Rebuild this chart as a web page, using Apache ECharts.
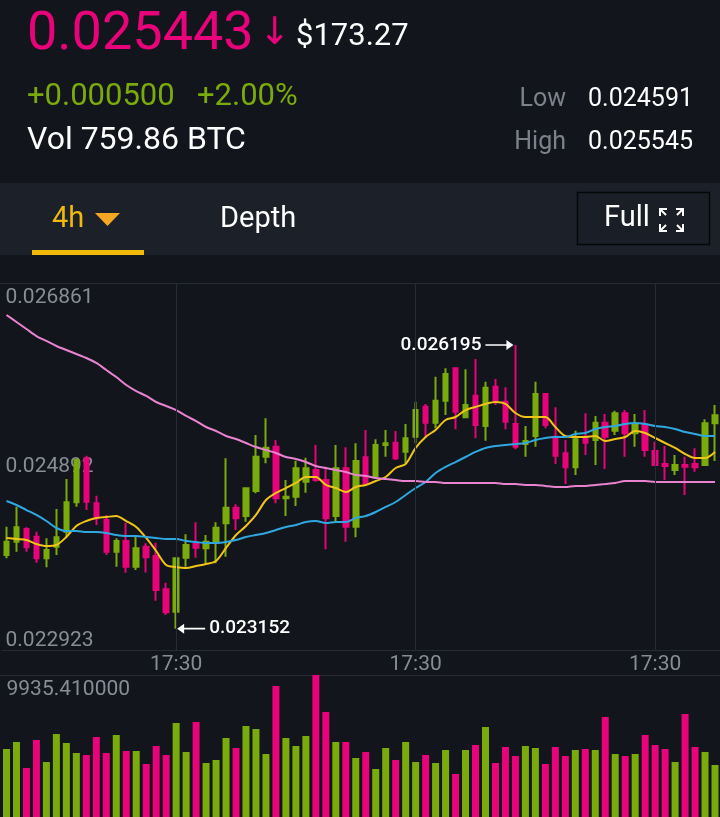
<!DOCTYPE html>
<html>
<head>
<meta charset="utf-8">
<script src="https://cdn.jsdelivr.net/npm/echarts@6/dist/echarts.min.js"></script>
<style>
  html, body { margin: 0; padding: 0; background: #12151c; }
  #main { width: 720px; height: 817px; }
</style>
</head>
<body>
<div id="main"></div>
<script>
// 4h candles
const opens = [0.023942,0.024085,0.024221,0.024139,0.023907,0.024031,0.024192,0.024508,0.024980,0.024497,
  0.024318,0.023978,0.024093,0.023817,0.024031,0.023932,0.023574,0.023334,0.023914,0.024061,
  0.024014,0.024085,0.024283,0.024450,0.024361,0.024629,0.024997,0.025105,0.024551,0.024568,
  0.024729,0.024855,0.024747,0.024361,0.024873,0.024246,0.024991,0.024790,0.025123,0.025147,
  0.025051,0.025212,0.025534,0.025362,0.025598,0.025946,0.025420,0.025652,0.025327,0.025748,
  0.025587,0.025348,0.025133,0.025219,0.025670,0.025212,0.025034,0.024884,0.025212,0.025176,
  0.025362,0.025276,0.025463,0.025248,0.025337,0.025058,0.024919,0.024855,0.024908,0.024919,
  0.024908,0.025356];
const closes = [0.024085,0.024240,0.024025,0.023907,0.023996,0.024132,0.024508,0.024962,0.024514,0.024336,
  0.023978,0.024093,0.023817,0.024014,0.023918,0.023567,0.023328,0.023907,0.024050,0.024021,
  0.024085,0.024235,0.024450,0.024336,0.024658,0.024997,0.025094,0.024551,0.024568,0.024873,
  0.024873,0.024747,0.024336,0.024873,0.024246,0.024951,0.024704,0.025123,0.025141,0.024980,
  0.025195,0.025498,0.025362,0.025598,0.025885,0.025480,0.025552,0.025337,0.025738,0.025598,
  0.025373,0.025105,0.025166,0.025670,0.025337,0.025008,0.024884,0.025184,0.025147,0.025362,
  0.025212,0.025463,0.025248,0.025337,0.025069,0.024908,0.024897,0.024908,0.024890,0.024884,
  0.025356,0.025443];
const lows = [0.023907,0.023978,0.023978,0.023860,0.023810,0.023942,0.024139,0.024461,0.024425,0.024264,
  0.023942,0.023817,0.023753,0.023782,0.023755,0.023452,0.023299,0.023152,0.023817,0.023914,
  0.023853,0.023853,0.023924,0.024211,0.024300,0.024605,0.024926,0.024497,0.024361,0.024468,
  0.024611,0.024729,0.024004,0.024300,0.024085,0.024132,0.024704,0.024790,0.024997,0.024962,
  0.024926,0.025141,0.025212,0.025302,0.025445,0.025291,0.025420,0.025195,0.025169,0.025552,
  0.025291,0.025077,0.024997,0.025105,0.025302,0.024919,0.024704,0.024801,0.025015,0.024908,
  0.024865,0.025230,0.024997,0.025105,0.024997,0.024908,0.024747,0.024801,0.024586,0.024836,
  0.024897,0.024951];
const highs = [0.024246,0.024461,0.024240,0.024192,0.024122,0.024436,0.024758,0.024980,0.025008,0.024579,
  0.024372,0.024122,0.024289,0.024139,0.024068,0.024074,0.023645,0.023907,0.024165,0.024293,
  0.024157,0.024293,0.024980,0.024486,0.024658,0.025230,0.025409,0.025176,0.024747,0.024954,
  0.024987,0.025123,0.024890,0.025123,0.025098,0.025141,0.025284,0.025184,0.025284,0.025273,
  0.025348,0.025587,0.025563,0.025856,0.025946,0.025946,0.025935,0.026046,0.025802,0.025831,
  0.025742,0.026195,0.025327,0.025802,0.025670,0.025527,0.025176,0.025276,0.025463,0.025434,
  0.025455,0.025491,0.025498,0.025455,0.025498,0.025158,0.025112,0.025015,0.024997,0.025087,
  0.025399,0.025552];
const volumes = [4758,5248,3428,5388,3848,5807,5178,4478,4338,5597,
  4478,5737,4618,4618,3708,4968,4338,6577,4548,6647,
  3778,3988,5527,4828,6367,6157,4408,9166,5527,4968,
  5667,9935.41,7347,5248,5248,4128,4548,3358,4828,3988,
  5248,3848,4338,3778,4688,3009,4688,5038,6297,3778,
  4898,4268,4968,4828,3708,4898,4268,4688,4758,4688,
  6997,4408,4268,4408,5737,5038,4758,3848,7207,4898,
  4548,3638];
// moving averages as drawn (yellow, blue, pink)
const ma7 = [0.024125,0.024114,0.024103,0.024061,0.024039,0.024050,0.024136,0.024254,0.024307,0.024339,
  0.024350,0.024361,0.024307,0.024243,0.024125,0.023985,0.023835,0.023814,0.023803,0.023824,
  0.023846,0.023878,0.024018,0.024157,0.024254,0.024372,0.024533,0.024608,0.024661,0.024715,
  0.024779,0.024779,0.024694,0.024661,0.024618,0.024672,0.024694,0.024736,0.024779,0.024876,
  0.024919,0.025091,0.025209,0.025284,0.025391,0.025423,0.025498,0.025531,0.025563,0.025584,
  0.025563,0.025466,0.025423,0.025423,0.025423,0.025316,0.025219,0.025209,0.025209,0.025219,
  0.025166,0.025187,0.025209,0.025273,0.025252,0.025198,0.025144,0.025091,0.025026,0.024983,
  0.024983,0.025048];
const ma25 = [0.024522,0.024479,0.024425,0.024372,0.024307,0.024232,0.024200,0.024200,0.024189,0.024189,
  0.024179,0.024157,0.024146,0.024146,0.024136,0.024125,0.024114,0.024114,0.024093,0.024082,
  0.024071,0.024071,0.024082,0.024103,0.024136,0.024157,0.024179,0.024211,0.024243,0.024264,
  0.024297,0.024307,0.024286,0.024297,0.024297,0.024339,0.024361,0.024404,0.024458,0.024511,
  0.024586,0.024661,0.024726,0.024822,0.024887,0.024940,0.024994,0.025048,0.025091,0.025112,
  0.025123,0.025133,0.025144,0.025176,0.025198,0.025209,0.025209,0.025241,0.025252,0.025294,
  0.025316,0.025327,0.025348,0.025359,0.025348,0.025327,0.025316,0.025294,0.025262,0.025241,
  0.025219,0.025219];
const ma99 = [0.026518,0.026443,0.026367,0.026292,0.026239,0.026185,0.026142,0.026099,0.026056,0.026003,
  0.025928,0.025852,0.025767,0.025702,0.025649,0.025584,0.025541,0.025498,0.025434,0.025380,
  0.025316,0.025273,0.025219,0.025187,0.025144,0.025101,0.025069,0.025037,0.024994,0.024973,
  0.024940,0.024897,0.024876,0.024855,0.024833,0.024801,0.024790,0.024769,0.024758,0.024747,
  0.024736,0.024736,0.024726,0.024726,0.024715,0.024715,0.024715,0.024715,0.024715,0.024715,
  0.024704,0.024704,0.024694,0.024694,0.024683,0.024672,0.024672,0.024683,0.024683,0.024694,
  0.024704,0.024715,0.024736,0.024736,0.024736,0.024726,0.024726,0.024726,0.024726,0.024726,
  0.024726,0.024726];
const priceTicks = [0.022923, 0.024892, 0.026861];
const volTicks = [9935.41];
const timeMarks = [17, 41, 65]; // candles labelled 17:30

// category labels: 4h steps
const slots = ['01:30', '05:30', '09:30', '13:30', '17:30', '21:30'];
const cats = [];
for (let i = 0; i < opens.length; i++) {
  const day = 1 + Math.floor((i + 5) / 6);
  cats.push('06-' + String(day).padStart(2, '0') + ' ' + slots[(i + 5) % 6]);
}

const UP = '#7aab0d';
const DOWN = '#e8037a';
const GRAY = '#878d97';
const FONT = 'Roboto, "Noto Sans", sans-serif';

const candles = opens.map((o, i) => [o, closes[i], lows[i], highs[i]]);
let hiIdx = 0, loIdx = 0;
highs.forEach((h, i) => { if (h > highs[hiIdx]) hiIdx = i; });
lows.forEach((l, i) => { if (l < lows[loIdx]) loIdx = i; });

const chart = echarts.init(document.getElementById('main'));

function txt(x, y, text, fill, size, align, family) {
  return {
    type: 'text', silent: true,
    style: { x: x, y: y, text: text, fill: fill, font: size + 'px ' + (family || FONT), align: align || 'left', verticalAlign: 'middle' }
  };
}
function pl(points) {
  return { type: 'polyline', silent: true, shape: { points: points }, style: { stroke: '#fff', lineWidth: 2, fill: null } };
}

const option = {
  backgroundColor: '#12151c',
  animation: false,
  textStyle: { fontFamily: FONT },
  graphic: [
    // header
    txt(27, 35, '0.025443', DOWN, 54),
    txt(259, 34, '↓', DOWN, 38, 'left', '"DejaVu Sans"'),
    txt(296, 37, '$173.27', '#ffffff', 31),
    txt(27, 97, '+0.000500', UP, 31),
    txt(197, 97, '+2.00%', UP, 31),
    txt(27, 141, 'Vol 759.86 BTC', '#ffffff', 32),
    txt(566, 100, 'Low', '#7b828c', 25, 'right'),
    txt(693, 100, '0.024591', '#ffffff', 25, 'right'),
    txt(566, 143, 'High', '#7b828c', 25, 'right'),
    txt(693, 143, '0.025545', '#ffffff', 25, 'right'),
    // tab bar
    { type: 'rect', silent: true, z: -1, shape: { x: 0, y: 183, width: 720, height: 72 }, style: { fill: '#1b2029' } },
    txt(52, 220, '4h', '#f0b90b', 29),
    { type: 'polygon', silent: true, shape: { points: [[95, 213], [120, 213], [107.5, 226]] }, style: { fill: '#f5a623' } },
    { type: 'rect', silent: true, shape: { x: 32, y: 250, width: 112, height: 5 }, style: { fill: '#f0b90b' } },
    txt(220, 220, 'Depth', '#ffffff', 29),
    { type: 'rect', silent: true, shape: { x: 577.5, y: 192.5, width: 132, height: 52 }, style: { fill: '#1a1f27', stroke: '#050608', lineWidth: 1.5 } },
    txt(604, 219, 'Full', '#ffffff', 29),
    pl([[660, 216], [660, 209], [667, 209]]), pl([[660, 209], [666, 215]]),
    pl([[676, 209], [683, 209], [683, 216]]), pl([[683, 209], [677, 215]]),
    pl([[660, 224], [660, 231], [667, 231]]), pl([[660, 231], [666, 225]]),
    pl([[676, 231], [683, 231], [683, 224]]), pl([[683, 231], [677, 225]]),
    // panel borders
    { type: 'line', silent: true, shape: { x1: 0, y1: 283.5, x2: 720, y2: 283.5 }, style: { stroke: '#262b34', lineWidth: 1 } },
    { type: 'line', silent: true, shape: { x1: 0, y1: 675.5, x2: 720, y2: 675.5 }, style: { stroke: '#262b34', lineWidth: 1 } }
  ],
  grid: [
    { left: 1.5, width: 720, top: 283, height: 367 },
    { left: 1.5, width: 720, top: 675, height: 142 }
  ],
  xAxis: [
    {
      type: 'category', gridIndex: 0, data: cats, boundaryGap: true,
      axisLine: { show: true, lineStyle: { color: '#262b34' } },
      axisTick: { show: false },
      splitLine: { show: false },
      axisLabel: {
        interval: (i) => timeMarks.indexOf(i) >= 0,
        formatter: (v) => v.slice(-5),
        color: GRAY, fontSize: 21, margin: 4, fontFamily: FONT
      }
    },
    {
      type: 'category', gridIndex: 1, data: cats, boundaryGap: true,
      axisLine: { show: false }, axisTick: { show: false }, axisLabel: { show: false }, splitLine: { show: false }
    }
  ],
  yAxis: [
    {
      type: 'value', gridIndex: 0, min: priceTicks[0], max: priceTicks[2],
      axisLine: { show: false }, axisTick: { show: false }, splitLine: { show: false },
      axisLabel: {
        inside: true, margin: 4, color: GRAY, fontSize: 21, fontFamily: FONT,
        customValues: priceTicks,
        formatter: (v) => {
          const s = v.toFixed(6);
          if (v >= priceTicks[2]) return '{t|' + s + '}';
          if (v <= priceTicks[0]) return '{b|' + s + '}';
          return s;
        },
        rich: {
          t: { lineHeight: 30, fontSize: 21, color: GRAY, fontFamily: FONT },
          b: { lineHeight: 18, fontSize: 21, color: GRAY, fontFamily: FONT }
        },
        verticalAlignMinLabel: 'bottom',
        verticalAlignMaxLabel: 'top'
      },
      z: 1
    },
    {
      type: 'value', gridIndex: 1, min: 0, max: volTicks[0],
      axisLine: { show: false }, axisTick: { show: false }, splitLine: { show: false },
      axisLabel: {
        inside: true, margin: 5, color: GRAY, fontSize: 21, fontFamily: FONT,
        customValues: volTicks,
        formatter: (v) => v.toFixed(6),
        verticalAlign: 'top', padding: [4, 0, 0, 0]
      }
    }
  ],
  series: [
    {
      type: 'candlestick', xAxisIndex: 0, yAxisIndex: 0,
      data: candles, barWidth: 5,
      itemStyle: { color: UP, color0: DOWN, borderColor: UP, borderColor0: DOWN, borderWidth: 2 },
      markLine: {
        silent: true, symbol: ['none', 'none'], label: { show: false },
        data: [
          { yAxis: priceTicks[1], lineStyle: { color: '#2c313a', type: [7, 7], width: 1 } }
        ].concat(timeMarks.map((i) => ({ xAxis: i, lineStyle: { color: '#262b34', type: 'solid', width: 1 } })))
      },
      markPoint: {
        silent: true,
        data: [
          {
            coord: [hiIdx, highs[hiIdx]], value: highs[hiIdx],
            symbol: 'path://M0,4.2L21,4.2L21,0L28,5L21,10L21,5.8L0,5.8Z',
            symbolSize: [28, 10], symbolOffset: [-16, 0],
            itemStyle: { color: '#ffffff' },
            label: { show: true, position: 'left', distance: 4, color: '#ffffff', fontSize: 19, fontWeight: 500, formatter: (p) => p.value.toFixed(6) }
          },
          {
            coord: [loIdx, lows[loIdx]], value: lows[loIdx],
            symbol: 'path://M28,4.2L7,4.2L7,0L0,5L7,10L7,5.8L28,5.8Z',
            symbolSize: [28, 10], symbolOffset: [15, 0],
            itemStyle: { color: '#ffffff' },
            label: { show: true, position: 'right', distance: 4, color: '#ffffff', fontSize: 19, fontWeight: 500, formatter: (p) => p.value.toFixed(6) }
          }
        ]
      }
    },
    { type: 'line', name: 'MA7', data: ma7, xAxisIndex: 0, yAxisIndex: 0, showSymbol: false, smooth: 0.3,
      lineStyle: { color: '#f0c419', width: 2 }, silent: true },
    { type: 'line', name: 'MA25', data: ma25, xAxisIndex: 0, yAxisIndex: 0, showSymbol: false, smooth: 0.3,
      lineStyle: { color: '#2fa8e0', width: 2 }, silent: true },
    { type: 'line', name: 'MA99', data: ma99, xAxisIndex: 0, yAxisIndex: 0, showSymbol: false, smooth: 0.3,
      lineStyle: { color: '#e883cf', width: 2 }, silent: true },
    {
      type: 'bar', xAxisIndex: 1, yAxisIndex: 1, barWidth: 7, silent: true,
      data: volumes.map((v, i) => ({ value: v, itemStyle: { color: closes[i] >= opens[i] ? UP : DOWN } }))
    }
  ]
};

chart.setOption(option);
</script>
</body>
</html>
